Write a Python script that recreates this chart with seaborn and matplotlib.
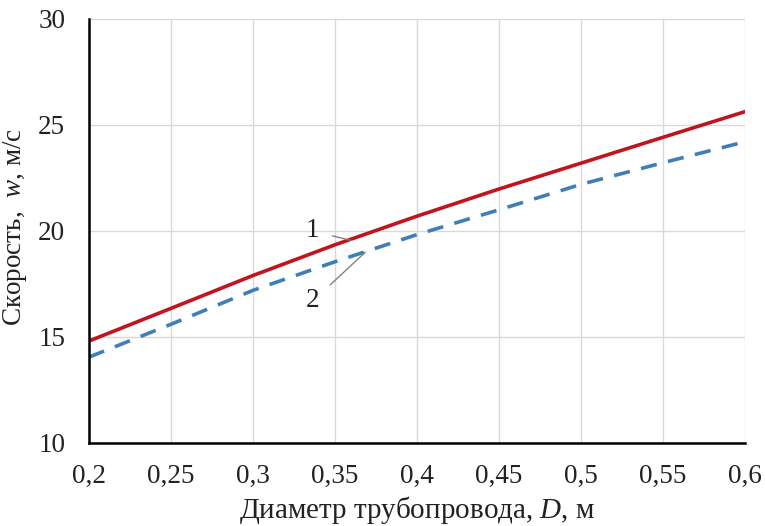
import matplotlib
matplotlib.use("Agg")
import matplotlib.pyplot as plt
import seaborn as sns
import pandas as pd
from matplotlib.ticker import FuncFormatter

diameter = [0.2, 0.25, 0.3, 0.35, 0.4, 0.45, 0.5, 0.55, 0.6]
speed_1 = [14.81, 16.35, 17.9, 19.35, 20.7, 21.98, 23.2, 24.42, 25.63]
speed_2 = [14.05, 15.6, 17.2, 18.55, 19.83, 21.0, 22.2, 23.22, 24.21]
x_ticks = [0.2, 0.25, 0.3, 0.35, 0.4, 0.45, 0.5, 0.55, 0.6]
y_ticks = [10, 15, 20, 25, 30]

sns.set_theme(style="whitegrid")
plt.rcParams['font.family'] = ['Liberation Serif', 'DejaVu Serif']
plt.rcParams['mathtext.fontset'] = 'custom'
plt.rcParams['mathtext.it'] = 'Liberation Serif:italic'
plt.rcParams['mathtext.rm'] = 'Liberation Serif'

fig = plt.figure(figsize=(7.65, 5.26), dpi=100)
ax = fig.add_axes([0.1163, 0.1578, 0.8576, 0.8061])

df1 = pd.DataFrame({"D": diameter, "w": speed_1})
df2 = pd.DataFrame({"D": diameter, "w": speed_2})
sns.lineplot(data=df1, x="D", y="w", ax=ax, color="#C0141E", linewidth=2.6)
sns.lineplot(data=df2, x="D", y="w", ax=ax, color="#3F7FB8", linewidth=2.6)
ax.lines[1].set_dashes([4.5, 3.2])

ax.set_xlim(0.2, 0.6)
ax.set_ylim(10, 30)
ax.set_xticks(x_ticks)
ax.set_yticks(y_ticks)
ax.xaxis.set_major_formatter(FuncFormatter(lambda v, p: f"{v:g}".replace(".", ",")))
ax.yaxis.set_major_formatter(FuncFormatter(lambda v, p: f"{v:g}"))

ax.grid(True, color="#D9D9D9", linewidth=1.0)
for s in ["top", "right"]:
    ax.spines[s].set_visible(False)
for s in ["left", "bottom"]:
    ax.spines[s].set_color("black")
    ax.spines[s].set_linewidth(1.8)
ax.tick_params(axis="both", which="major", direction="out", length=6, width=1.8,
               color="black", labelsize=19.5, labelcolor="#222222")
ax.tick_params(axis="y", pad=11)
ax.tick_params(axis="x", pad=9)
ax.set_facecolor("white")

ax.set_xlabel("Диаметр трубопровода, $\\mathit{D}$, м", fontsize=21, color="#222222", labelpad=4)
ax.set_ylabel("Скорость,  $\\mathit{w}$, м/с", fontsize=19.5, color="#222222")
ax.yaxis.set_label_coords(-0.092, 0.509)

ax.annotate("1", xy=(0.36, 19.55), xytext=(0.3365, 20.0), fontsize=19.5, color="#222222",
            ha="center", va="center",
            arrowprops=dict(arrowstyle="-", color="#777777", lw=0.9, shrinkA=7, shrinkB=0))
ax.annotate("2", xy=(0.3685, 19.0), xytext=(0.3365, 16.7), fontsize=19.5, color="#222222",
            ha="center", va="center",
            arrowprops=dict(arrowstyle="-", color="#777777", lw=0.9, shrinkA=7, shrinkB=0))

fig.savefig("out.png", dpi=100, facecolor="white")
